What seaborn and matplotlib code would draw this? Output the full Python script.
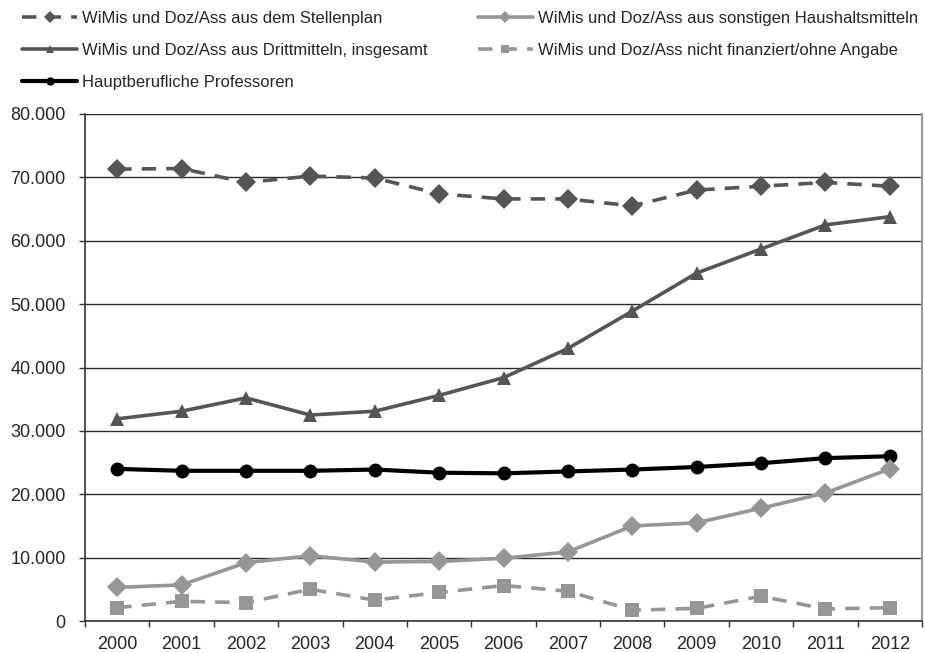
import numpy as np
import pandas as pd
import matplotlib
matplotlib.use("Agg")
import matplotlib.pyplot as plt
import seaborn as sns
from matplotlib.ticker import FuncFormatter, FixedLocator

years = [str(y) for y in range(2000, 2013)]

stellenplan = [71300, 71400, 69200, 70200, 69900, 67400, 66600, 66600, 65500, 68000, 68600, 69200, 68600]
drittmittel = [31900, 33100, 35200, 32500, 33100, 35600, 38400, 43000, 48900, 54900, 58700, 62500, 63800]
professoren = [24000, 23700, 23700, 23700, 23900, 23400, 23300, 23600, 23900, 24300, 24900, 25700, 26000]
sonstige = [5300, 5700, 9200, 10300, 9300, 9400, 9900, 10900, 15000, 15500, 17800, 20200, 24000]
nicht_finanziert = [2100, 3100, 2900, 5000, 3300, 4500, 5600, 4700, 1700, 2000, 3900, 1900, 2100]

labels = [
    "WiMis und Doz/Ass aus dem Stellenplan",
    "WiMis und Doz/Ass aus Drittmitteln, insgesamt",
    "Hauptberufliche Professoren",
    "WiMis und Doz/Ass aus sonstigen Haushaltsmitteln",
    "WiMis und Doz/Ass nicht finanziert/ohne Angabe",
]
series = [stellenplan, drittmittel, professoren, sonstige, nicht_finanziert]

frames = [pd.DataFrame({"Jahr": years, "Anzahl": vals, "Reihe": lab})
          for lab, vals in zip(labels, series)]
df = pd.concat(frames, ignore_index=True)

palette = {labels[0]: "#555555", labels[1]: "#555555", labels[2]: "#000000",
           labels[3]: "#969696", labels[4]: "#969696"}
markers = {labels[0]: "D", labels[1]: "^", labels[2]: "o",
           labels[3]: "D", labels[4]: "s"}
dashes = {labels[0]: (4, 2.8), labels[1]: "", labels[2]: "",
          labels[3]: "", labels[4]: (4, 2.8)}
msizes = {labels[0]: 9, labels[1]: 10, labels[2]: 10, labels[3]: 9, labels[4]: 9}

sns.set_style("white")
plt.rcParams["font.family"] = ["Liberation Sans", "DejaVu Sans"]

fig = plt.figure(figsize=(9.25, 6.53), dpi=100)
ax = fig.add_axes([85 / 925, 1 - 621 / 653, (922 - 85) / 925, (621 - 114) / 653])

sns.lineplot(data=df, x="Jahr", y="Anzahl", hue="Reihe", style="Reihe",
             hue_order=labels, style_order=labels,
             palette=palette, markers=markers, dashes=dashes,
             linewidth=2.6, markersize=10, markeredgewidth=0,
             ax=ax, legend=True, zorder=3)

# per-series marker sizes, heavier line for the professors
for line in ax.get_lines():
    lab = line.get_label()
    if lab in msizes:
        line.set_markersize(msizes[lab])
    if line.get_color() == "#000000":
        line.set_linewidth(3.0)

handles, hlabels = ax.get_legend_handles_labels()
ax.get_legend().remove()
for h in handles:
    h.set_markersize(6)
fig.legend(handles, hlabels, ncol=2, loc="upper left",
           bbox_to_anchor=(22 / 925, 1 - 11 / 653), frameon=False,
           fontsize=12, handlelength=3.3, handletextpad=0.3,
           labelspacing=1.02, columnspacing=3.0, borderaxespad=0,
           borderpad=0)

ax.set_ylim(0, 80000)
ax.set_xlim(-0.5, len(years) - 0.5)
ax.yaxis.set_major_locator(FixedLocator(np.arange(0, 80001, 10000)))
ax.yaxis.set_major_formatter(FuncFormatter(lambda v, p: f"{int(v):,}".replace(",", ".")))
ax.grid(axis="y", color="#2a2a2a", linewidth=1.0, zorder=0)
ax.set_axisbelow(True)

# category boundaries carry the tick marks, labels sit centred between them
ax.set_xticks(np.arange(-0.5, len(years), 1.0))
ax.set_xticklabels([])
ax.set_xticks(np.arange(len(years)), minor=True)
ax.set_xticklabels(years, minor=True)
ax.tick_params(axis="x", which="major", direction="out", length=4, width=1, color="#333333", bottom=True)
ax.tick_params(axis="x", which="minor", length=0, labelsize=13, pad=11)
ax.tick_params(axis="y", direction="out", length=4, width=1, color="#333333", left=True, labelsize=13, pad=10)

ax.set_xlabel("")
ax.set_ylabel("")
for side in ["left", "bottom"]:
    ax.spines[side].set_color("#333333")
    ax.spines[side].set_linewidth(1.2)
ax.spines["top"].set_visible(False)
ax.spines["right"].set_color("#999999")
ax.spines["right"].set_linewidth(1.5)

fig.savefig("out.png", dpi=100)
